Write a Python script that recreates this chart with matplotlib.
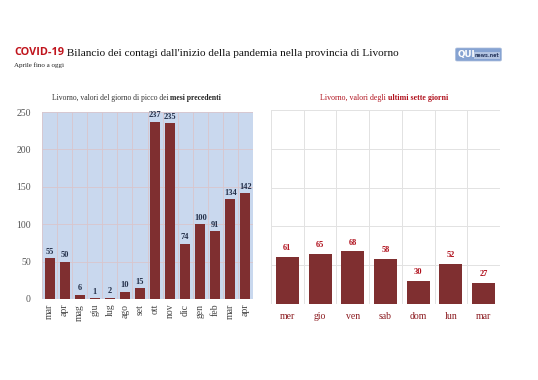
import matplotlib
matplotlib.use("Agg")
import matplotlib.pyplot as plt
from matplotlib.patches import FancyBboxPatch, Rectangle
import numpy as np

months = ["mar", "apr", "mag", "giu", "lug", "ago", "set", "ott", "nov", "dic", "gen", "feb", "mar", "apr"]
month_peaks = [55, 50, 6, 1, 2, 10, 15, 237, 235, 74, 100, 91, 134, 142]
days = ["mer", "gio", "ven", "sab", "dom", "lun", "mar"]
day_values = [61, 65, 68, 58, 30, 52, 27]
yticks = [0, 50, 100, 150, 200, 250]

SERIF = ["Liberation Serif", "DejaVu Serif"]
BAR = "#7f2f30"
plt.rcParams["font.family"] = SERIF

fig = plt.figure(figsize=(5.38, 3.8), dpi=100)
fig.patch.set_facecolor("white")

bg = fig.add_axes([0, 0, 1, 1])
bg.set_axis_off()
bg.set_xlim(0, 538)
bg.set_ylim(380, 0)

t1 = bg.text(14, 55, "COVID-19", fontsize=7.8, fontweight="bold", color="#c0141c",
             family=["Open Sans", "DejaVu Sans"], va="baseline", ha="left")
bg.annotate(" Bilancio dei contagi dall'inizio della pandemia nella provincia di Livorno",
            xy=(1, 0), xycoords=t1, va="bottom", ha="left", fontsize=8.1, color="#111111",
            family=SERIF)
bg.text(14, 65, "Aprile fino a oggi", fontsize=5, color="#222222", va="center", ha="left")

# logo
bg.add_patch(FancyBboxPatch((456, 48.5), 45, 12, boxstyle="round,pad=0.5,rounding_size=1.5",
                            fc="#86a3d2", ec="#a9bcdc", lw=0.5))
bg.add_patch(Rectangle((474, 51.5), 26, 7, fc="#b3c5e2", ec="none"))
bg.text(457.5, 55, "QUI", fontsize=6.3, fontweight="bold", color="white", ha="left", va="center",
        family=["DejaVu Sans"])
bg.text(487, 55.3, "news.net", fontsize=3.4, fontweight="bold", color="#26375e", ha="center", va="center",
        family=["DejaVu Sans"])

# panel titles
p1 = bg.text(52, 98, "Livorno, valori del giorno di picco dei ", fontsize=5.5, color="#333333",
             va="center", ha="left")
bg.annotate("mesi precedenti", xy=(1, 0), xycoords=p1, va="bottom", ha="left", fontsize=5.5,
            fontweight="bold", color="#222222")
p2 = bg.text(320, 98, "Livorno, valori degli ", fontsize=5.7, color="#b0101c", va="center", ha="left")
bg.annotate("ultimi sette giorni", xy=(1, 0), xycoords=p2, va="bottom", ha="left", fontsize=5.7,
            fontweight="bold", color="#b0101c")

# left chart
ax1 = fig.add_axes([42 / 538, 1 - 299 / 380, 211 / 538, 187 / 380])
x1 = np.arange(len(months))
ax1.set_facecolor("#c9d8ee")
ax1.bar(x1, month_peaks, width=0.66, color=BAR, zorder=3)
ax1.set_xlim(-0.5, len(months) - 0.5)
ax1.set_ylim(0, 250)
ax1.set_yticks(yticks)
ax1.set_yticklabels([str(v) for v in yticks], fontsize=7, color="#555555")
ax1.set_xticks(x1)
ax1.set_xticklabels(months, rotation=90, fontsize=7, color="#444444")
ax1.set_xticks(np.arange(len(months) + 1) - 0.5, minor=True)
ax1.grid(True, which="minor", axis="x", color="#d9c6cc", lw=0.6, zorder=0)
ax1.grid(True, which="major", axis="y", color="#d9c6cc", lw=0.6, zorder=0)
ax1.tick_params(which="both", length=0)
ax1.tick_params(axis="y", pad=8)
for s in ax1.spines.values():
    s.set_visible(False)
for xi, v in zip(x1, month_peaks):
    ax1.text(xi, v + 3, str(v), ha="center", va="bottom", fontsize=6, fontweight="bold",
             color="#24304a", zorder=4)

# right chart
ax2 = fig.add_axes([271 / 538, 1 - 304 / 380, 229 / 538, 194 / 380])
x2 = np.arange(len(days))
ax2.set_facecolor("white")
ax2.bar(x2, day_values, width=0.7, color=BAR, zorder=3)
ax2.set_xlim(-0.5, len(days) - 0.5)
ax2.set_ylim(0, 250)
ax2.set_yticks(yticks)
ax2.set_yticklabels([])
ax2.set_xticks(x2)
ax2.set_xticklabels(days, fontsize=7, color="#8b1a1f")
ax2.set_xticks(np.arange(len(days) + 1) - 0.5, minor=True)
ax2.grid(True, which="minor", axis="x", color="#e2e2e2", lw=0.7, zorder=0)
ax2.grid(True, which="major", axis="y", color="#e2e2e2", lw=0.7, zorder=0)
ax2.tick_params(which="both", length=0, pad=6)
for s in ax2.spines.values():
    s.set_visible(False)
for xi, v in zip(x2, day_values):
    ax2.text(xi, v + 6, str(v), ha="center", va="bottom", fontsize=6, fontweight="bold",
             color="#b0101c", zorder=4)

fig.savefig("out.png", dpi=100, facecolor="white")
